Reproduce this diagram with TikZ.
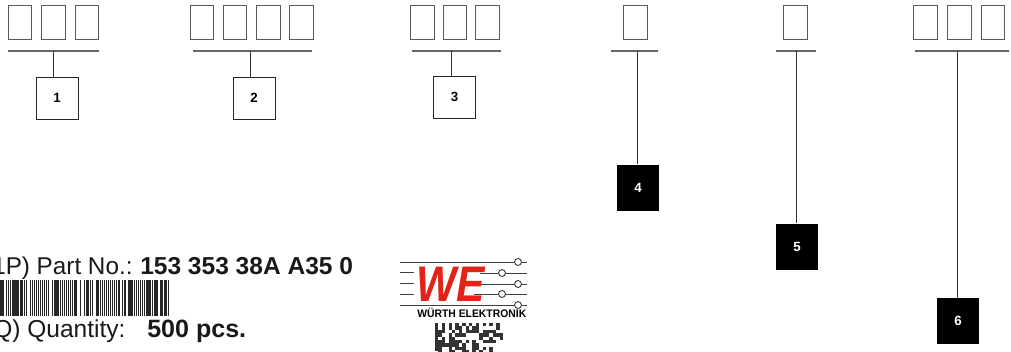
\documentclass[tikz,border=0pt]{standalone}
\usepackage{fontspec}
\setmainfont{Liberation Sans}
\definecolor{weRed}{RGB}{226,35,26}
\tikzset{
  digit/.style={draw=black!65, line width=0.75pt, minimum width=17.6pt, minimum height=25.5pt, inner sep=0pt},
  tagW/.style={draw=black!85, line width=0.75pt, minimum width=31.5pt, minimum height=31.5pt, inner sep=0pt, font=\bfseries\fontsize{10}{11}\selectfont},
  tagB/.style={fill=black, text=white, minimum width=31.5pt, minimum height=34.5pt, inner sep=0pt, font=\bfseries\fontsize{10}{11}\selectfont},
  bar/.style={draw=black!60, line width=0.9pt},
  stem/.style={draw=black!80, line width=0.75pt},
  logoline/.style={draw=black!75, line width=0.7pt},
  labeltext/.style={anchor=base west, inner sep=0pt, text=black!90}
}
\begin{document}
\begin{tikzpicture}[x=0.75pt,y=0.75pt,yscale=-1,xscale=1]
\useasboundingbox (0,0) rectangle (1011,351);
%Digit boxes, group 1
\node[digit] (g1a) at (19.8,22) {};
\node[digit] (g1b) at (53.3,22) {};
\node[digit] (g1c) at (86.8,22) {};
%Digit boxes, group 2
\node[digit] (g2a) at (201.8,22) {};
\node[digit] (g2b) at (235,22) {};
\node[digit] (g2c) at (268.3,22) {};
\node[digit] (g2d) at (301.5,22) {};
%Digit boxes, group 3
\node[digit] (g3a) at (422.5,22) {};
\node[digit] (g3b) at (455,22) {};
\node[digit] (g3c) at (487.5,22) {};
%Digit boxes, group 4 and 5
\node[digit] (g4a) at (635.5,22) {};
\node[digit] (g5a) at (795.5,22) {};
%Digit boxes, group 6
\node[digit] (g6a) at (925.5,22) {};
\node[digit] (g6b) at (959.3,22) {};
\node[digit] (g6c) at (993,22) {};
%Bars under the groups
\draw[bar] (8,51) -- (99,51);
\draw[bar] (193,51) -- (312,51);
\draw[bar] (412,51) -- (501,51);
\draw[bar] (611,51) -- (658,51);
\draw[bar] (776,51) -- (816,51);
\draw[bar] (915,51) -- (1009,51);
\coordinate (s1) at (53,51);
\coordinate (s2) at (250,51);
\coordinate (s3) at (451,51);
\coordinate (s4) at (637,51);
\coordinate (s5) at (796,51);
\coordinate (s6) at (957,51);
%Number tags
\node[tagW] (t1) at (57,98) {1};
\node[tagW] (t2) at (254,98) {2};
\node[tagW] (t3) at (454.5,97) {3};
\node[tagB] (t4) at (638,187.5) {4};
\node[tagB] (t5) at (797,246.5) {5};
\node[tagB] (t6) at (958,321) {6};
%Stems
\draw[stem] (s1) -- (s1 |- t1.north);
\draw[stem] (s2) -- (s2 |- t2.north);
\draw[stem] (s3) -- (s3 |- t3.north);
\draw[stem] (s4) -- (s4 |- t4.north);
\draw[stem] (s5) -- (s5 |- t5.north);
\draw[stem] (s6) -- (s6 |- t6.north);
% Text Node
\node[labeltext, font=\fontsize{18.2}{20}\selectfont] (partno) at (-8,274) {1P) Part No.:};
% Text Node
\node[labeltext, font=\bfseries\fontsize{18.4}{20}\selectfont] (partval) at (140,274) {153 353 38A A35 0};
% Text Node
\node[labeltext, font=\fontsize{18.4}{20}\selectfont] (qty) at (-7,337) {Q) Quantity:};
% Text Node
\node[labeltext, font=\bfseries\fontsize{18.8}{20}\selectfont] (qtyval) at (147,337) {500 pcs.};
%Barcode
\pgfmathsetseed{11}
\foreach \i in {0,...,84}{
  \pgfmathsetmacro{\pp}{rnd}
  \pgfmathsetmacro{\ww}{0.8+1.1*rnd}
  \ifdim\pp pt>0.12pt
    \fill[black!85] (2*\i,280) rectangle ++(\ww,36);
  \fi
}
%Logo lines
\draw[logoline] (400,262) -- (527,262);
\draw[logoline] (400,272) -- (414,272);
\draw[logoline] (400,283) -- (414,283);
\draw[logoline] (400,294) -- (414,294);
\draw[logoline] (480,273) -- (527,273);
\draw[logoline] (477,284) -- (527,284);
\draw[logoline] (474,294) -- (527,294);
\draw[logoline] (400,305) -- (527,305);
\foreach \cx/\cy in {518/262,502/273,518/284,502/294,518/305}
  \draw[logoline, fill=white] (\cx,\cy) circle[radius=2.6pt];
% Text Node
\node[labeltext, text=weRed, font=\bfseries\itshape\fontsize{37.5}{38}\selectfont, xscale=0.85] (we) at (416,301) {WE};
% Text Node
\node[labeltext, text=black, font=\bfseries\fontsize{8.2}{9}\selectfont, xscale=0.95] (wuerth) at (417,317) {WÜRTH ELEKTRONIK};
%Data matrix
\fill[black!80] (435,323) rectangle (438.4,351);
\foreach \col in {0,2,...,19}
  \fill[black!80] (435+3.4*\col,323) rectangle ++(3.4,3.4);
\foreach \col in {1,...,19}{
  \foreach \row in {1,...,8}{
    \pgfmathsetmacro{\pp}{rnd}
    \ifdim\pp pt>0.5pt
      \fill[black!80] (435+3.4*\col,323+3.4*\row) rectangle ++(3.4,3.4);
    \fi
  }
}
\end{tikzpicture}
\end{document}
